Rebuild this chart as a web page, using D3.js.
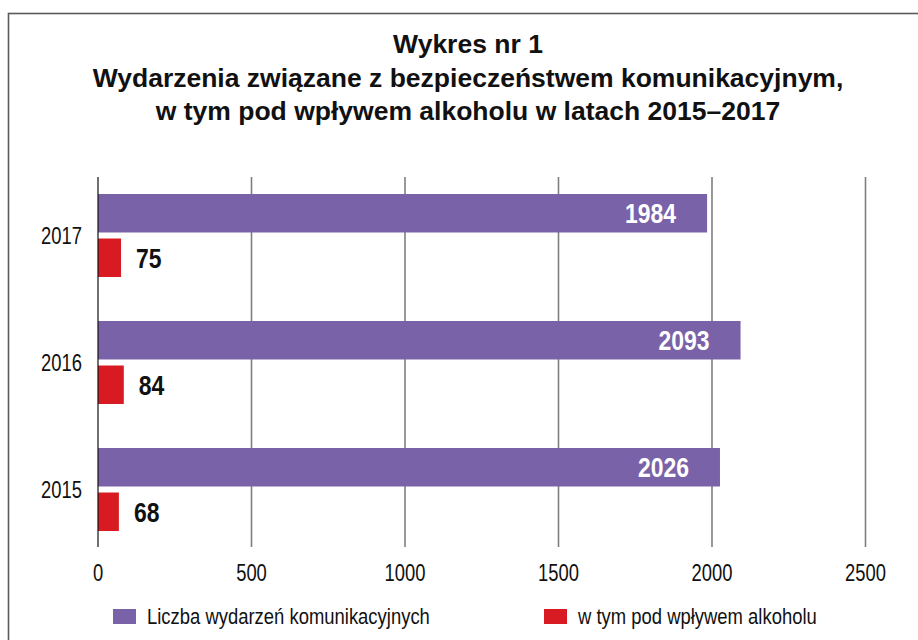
<!DOCTYPE html>
<html>
<head>
<meta charset="utf-8">
<script src="https://cdn.jsdelivr.net/npm/d3@7"></script>
<style>
  body { margin: 0; background: #fff; }
  svg text { font-family: "Liberation Sans", Arial, sans-serif; }
</style>
</head>
<body>
<div id="chart"></div>
<script>
var years = ["2017", "2016", "2015"];
var series_names = ["Liczba wydarzeń komunikacyjnych", "w tym pod wpływem alkoholu"];
var total_events = [1984, 2093, 2026];
var alcohol_events = [75, 84, 68];
var x_ticks = [0, 500, 1000, 1500, 2000, 2500];
var title_lines = [
    "Wykres nr 1",
    "Wydarzenia związane z bezpieczeństwem komunikacyjnym,",
    "w tym pod wpływem alkoholu w latach 2015–2017"
];

var width = 918, height = 640;
var colors = ["#7a62a8", "#d81b22"];
var narrow = 0.8; // squeeze Arial into something like a narrow cut

var svg = d3.select("#chart").append("svg")
    .attr("width", width)
    .attr("height", height);

function place(px, py, sx) {
    return "translate(" + px + "," + py + ") scale(" + (sx || narrow) + ",1)";
}

// frame (only top and left edges are visible)
svg.append("rect")
    .attr("x", 8.5).attr("y", 13.5)
    .attr("width", 930).attr("height", 660)
    .attr("fill", "none")
    .attr("stroke", "#5a5a5a")
    .attr("stroke-width", 1.6);

svg.selectAll(".title")
    .data(title_lines)
    .enter().append("text")
        .attr("class", "title")
        .attr("x", 468)
        .attr("y", (d, i) => 53 + i * 33.5)
        .attr("text-anchor", "middle")
        .attr("font-size", "26.5px")
        .attr("font-weight", "bold")
        .attr("fill", "#111")
        .text(d => d);

var x = d3.scaleLinear().domain([0, 2500]).range([98, 865.5]);
var y = d3.scaleBand().domain(years).range([172, 553]);
var inner = d3.scaleBand().domain([0, 1]).range([-41.5, 41.5]).paddingInner(0.135);

var grid_top = 177, grid_bottom = 547;

svg.append("g")
    .selectAll("line")
    .data(x_ticks.slice(1))
    .enter().append("line")
        .attr("x1", d => x(d)).attr("x2", d => x(d))
        .attr("y1", grid_top).attr("y2", grid_bottom)
        .attr("stroke", "#7f7f7f")
        .attr("stroke-width", 1.6);

var rows = years.map(function(yr, i) {
    return { year: yr, values: [total_events[i], alcohol_events[i]] };
});

var group = svg.append("g")
    .selectAll("g")
    .data(rows)
    .enter().append("g")
        .attr("transform", d => "translate(0," + (y(d.year) + y.bandwidth() / 2) + ")");

group.selectAll("rect")
    .data(d => d.values.map((v, k) => ({ k: k, v: v })))
    .enter().append("rect")
        .attr("x", x(0))
        .attr("y", d => inner(d.k))
        .attr("width", d => x(d.v) - x(0))
        .attr("height", inner.bandwidth())
        .attr("fill", d => colors[d.k]);

group.selectAll("text.val")
    .data(d => d.values.map((v, k) => ({ k: k, v: v })))
    .enter().append("text")
        .attr("class", "val")
        .attr("transform", d => place(d.k == 0 ? x(d.v) - 31 : x(d.v) + 15,
                                      inner(d.k) + inner.bandwidth() / 2 + 10, 0.82))
        .attr("text-anchor", d => d.k == 0 ? "end" : "start")
        .attr("font-size", "28px")
        .attr("font-weight", "bold")
        .attr("fill", d => d.k == 0 ? "#fff" : "#111")
        .text(d => d.v);

// zero line
svg.append("line")
    .attr("x1", x(0)).attr("x2", x(0))
    .attr("y1", grid_top).attr("y2", grid_bottom)
    .attr("stroke", "#111")
    .attr("stroke-width", 1.2);

// category labels
svg.append("g")
    .selectAll("text")
    .data(years)
    .enter().append("text")
        .attr("transform", d => place(82, y(d) + y.bandwidth() / 2 + 8))
        .attr("text-anchor", "end")
        .attr("font-size", "23px")
        .attr("fill", "#111")
        .text(d => d);

// tick labels
svg.append("g")
    .selectAll("text")
    .data(x_ticks)
    .enter().append("text")
        .attr("transform", d => place(x(d), 581))
        .attr("text-anchor", "middle")
        .attr("font-size", "23px")
        .attr("fill", "#111")
        .text(d => d);

// legend
var legend_x = [113, 544];
var legend = svg.append("g")
    .selectAll("g")
    .data(series_names)
    .enter().append("g")
        .attr("transform", (d, i) => "translate(" + legend_x[i] + ",609)");

legend.append("rect")
    .attr("width", 23).attr("height", 15)
    .attr("fill", (d, i) => colors[i]);

legend.append("text")
    .attr("transform", place(34, 14.5, 0.82))
    .attr("font-size", "22.5px")
    .attr("fill", "#111")
    .text(d => d);
</script>
</body>
</html>
